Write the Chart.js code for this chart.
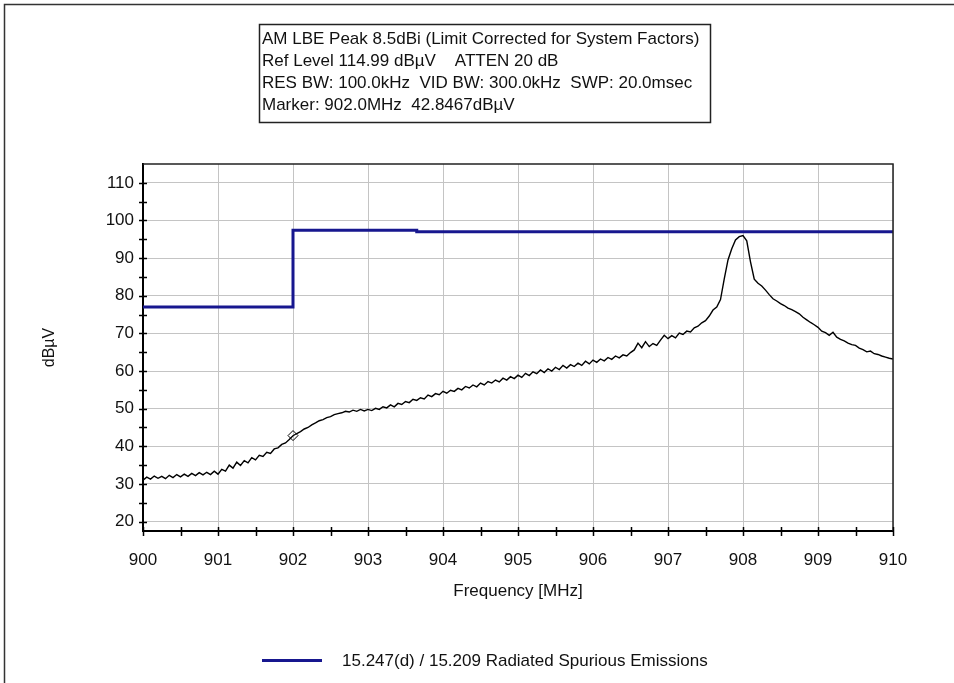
<!DOCTYPE html>
<html>
<head>
<meta charset="utf-8">
<script src="https://cdn.jsdelivr.net/npm/chart.js@4.4.1/dist/chart.umd.min.js"></script>
<style>
  html, body { margin: 0; padding: 0; background: #fff; }
  canvas { display: block; }
</style>
</head>
<body>
<canvas id="grafico" width="954" height="683"></canvas>
<script>
const sweepStart = 900;
const sweepStep = 0.05;
const traceLevels = [
  31.0, 31.8, 31.3, 32.1, 31.5, 32.0, 31.4, 32.3, 31.7, 32.5,
  31.9, 32.6, 32.0, 32.8, 32.2, 33.0, 32.4, 33.1, 32.5, 33.4,
  32.6, 33.9, 33.4, 35.0, 34.2, 35.8, 34.9, 36.2, 35.6, 37.0,
  36.4, 37.6, 37.3, 38.4, 38.1, 39.3, 39.6, 40.5, 40.9, 41.8,
  42.8, 43.4, 43.9, 44.6, 45.0, 45.7, 46.2, 46.8, 47.1, 47.6,
  47.9, 48.4, 48.7, 48.9, 49.3, 49.1, 49.6, 49.3, 49.8, 49.4,
  49.8, 49.5, 50.1, 49.8, 50.5, 50.2, 51.0, 50.5, 51.4, 51.1,
  51.9, 51.6, 52.5, 52.2, 52.9, 52.6, 53.6, 53.2, 54.0, 53.7,
  54.6, 54.1, 54.9, 54.6, 55.4, 55.0, 55.9, 55.5, 56.3, 55.8,
  56.8, 56.3, 57.2, 56.8, 57.6, 57.1, 58.1, 57.6, 58.5, 58.0,
  58.9, 58.3, 59.4, 58.8, 59.8, 59.3, 60.3, 59.6, 60.6, 60.0,
  61.0, 60.4, 61.5, 60.8, 61.7, 61.2, 62.1, 61.5, 62.6, 61.9,
  62.9, 62.3, 63.2, 62.7, 63.6, 63.1, 64.0, 63.5, 64.3, 64.0,
  64.9, 65.6, 67.4, 66.2, 67.8, 66.5, 67.3, 66.8, 68.2, 69.5,
  68.6, 69.4, 68.8, 70.1, 69.7, 70.6, 70.4, 71.5, 71.9, 72.8,
  73.4, 74.6, 76.2, 77.0, 79.0, 84.5, 89.5, 92.5, 94.8, 95.7,
  96.0, 94.6, 89.0, 84.4, 83.3, 82.6, 81.5, 80.3, 79.2, 78.6,
  77.9, 77.4, 76.7, 76.3, 75.8, 75.2, 74.3, 73.6, 72.9, 72.3,
  71.6, 70.6, 70.2, 69.5, 70.3, 69.0, 68.4, 68.0, 67.4, 67.0,
  66.8, 66.1, 65.7, 65.1, 65.3, 64.6, 64.4, 64.0, 63.7, 63.4,
  63.2
];
const traceFreqs = traceLevels.map((v, i) => +(sweepStart + i * sweepStep).toFixed(2));

// limite 15.247(d) / 15.209
const limitFreqs = [900, 902, 902, 903.65, 903.65, 910];
const limitLevels = [77.0, 77.0, 97.4, 97.4, 97.0, 97.0];

// marcador
const markerFreq = 902.0;
const markerLevel = 42.8467;

const yTickValues = [20, 30, 40, 50, 60, 70, 80, 90, 100, 110];
const xTickValues = [900, 901, 902, 903, 904, 905, 906, 907, 908, 909, 910];

const infoLines = [
  "AM LBE Peak 8.5dBi (Limit Corrected for System Factors)",
  "Ref Level 114.99 dB\u00b5V    ATTEN 20 dB",
  "RES BW: 100.0kHz  VID BW: 300.0kHz  SWP: 20.0msec",
  "Marker: 902.0MHz  42.8467dB\u00b5V"
];
const legendLabel = "15.247(d) / 15.209 Radiated Spurious Emissions";

const FONT = '"Liberation Sans", Arial, sans-serif';
const LIMIT_COLOR = '#17178f';

// plugin para marco, marcas de eje, caja de info y leyenda
const decoracion = {
  id: 'decoracion',
  afterDraw(chart) {
    const ctx = chart.ctx;
    const a = chart.chartArea;
    const xs = chart.scales.x, ys = chart.scales.y;
    ctx.save();

    // marco exterior
    ctx.strokeStyle = '#333';
    ctx.lineWidth = 1.5;
    ctx.beginPath();
    ctx.moveTo(4.5, 683);
    ctx.lineTo(4.5, 4.5);
    ctx.lineTo(954, 4.5);
    ctx.stroke();

    // borde superior y derecho del area
    ctx.strokeStyle = '#222';
    ctx.lineWidth = 1.5;
    ctx.beginPath();
    ctx.moveTo(a.left, a.top);
    ctx.lineTo(a.right, a.top);
    ctx.lineTo(a.right, a.bottom);
    ctx.stroke();

    // marcas cruzando los ejes
    ctx.strokeStyle = '#000';
    ctx.lineWidth = 1.5;
    ctx.beginPath();
    for (let v = 20; v <= 110; v += 5) {
      const y = Math.round(ys.getPixelForValue(v)) + 0.5;
      ctx.moveTo(a.left - 4, y);
      ctx.lineTo(a.left + 4, y);
    }
    for (let v = 900; v <= 910; v += 0.5) {
      const x = Math.round(xs.getPixelForValue(v)) + 0.5;
      ctx.moveTo(x, a.bottom - 4);
      ctx.lineTo(x, a.bottom + 5);
    }
    ctx.stroke();

    // caja de informacion
    ctx.fillStyle = '#fff';
    ctx.fillRect(259, 24, 451, 98);
    ctx.strokeStyle = '#222';
    ctx.lineWidth = 1.5;
    ctx.strokeRect(259.5, 24.5, 451, 98);
    ctx.fillStyle = '#111';
    ctx.font = '17px ' + FONT;
    ctx.textBaseline = 'alphabetic';
    ctx.textAlign = 'left';
    infoLines.forEach((t, i) => ctx.fillText(t, 262, 44 + i * 22));

    // leyenda
    ctx.strokeStyle = LIMIT_COLOR;
    ctx.lineWidth = 3;
    ctx.beginPath();
    ctx.moveTo(262, 660.5);
    ctx.lineTo(322, 660.5);
    ctx.stroke();
    ctx.fillStyle = '#111';
    ctx.font = '17px ' + FONT;
    ctx.textBaseline = 'middle';
    ctx.fillText(legendLabel, 342, 661);

    ctx.restore();
  }
};

window.onload = function () {
  const ctx = document.getElementById('grafico');
  new Chart(ctx, {
    type: 'line',
    data: {
      datasets: [
        {
          label: 'Marker',
          data: [{ x: markerFreq, y: markerLevel }],
          showLine: false,
          pointStyle: 'rectRot',
          pointRadius: 5,
          pointBorderWidth: 1,
          pointBorderColor: '#000',
          pointBackgroundColor: 'rgba(255,255,255,0)',
          order: 0
        },
        {
          label: legendLabel,
          data: limitFreqs.map((f, i) => ({ x: f, y: limitLevels[i] })),
          borderColor: LIMIT_COLOR,
          borderWidth: 3,
          pointRadius: 0,
          tension: 0,
          order: 1
        },
        {
          label: 'Trace',
          data: traceFreqs.map((f, i) => ({ x: f, y: traceLevels[i] })),
          borderColor: '#000',
          borderWidth: 1.4,
          pointRadius: 0,
          tension: 0,
          order: 2
        }
      ]
    },
    options: {
      responsive: false,
      animation: false,
      events: [],
      layout: { padding: { left: 0, top: 164, right: 61, bottom: 0 } },
      plugins: {
        legend: { display: false },
        tooltip: { enabled: false }
      },
      scales: {
        x: {
          type: 'linear',
          min: 900,
          max: 910,
          afterBuildTicks: s => { s.ticks = xTickValues.map(v => ({ value: v })); },
          afterFit: s => { s.height = 152; },
          grid: { color: '#c4c4c4', lineWidth: 1, drawTicks: false },
          border: { display: true, color: '#000', width: 2 },
          ticks: {
            padding: 19,
            color: '#111',
            maxRotation: 0,
            font: { family: FONT, size: 17 },
            callback: v => String(v)
          },
          title: {
            display: true,
            text: 'Frequency [MHz]',
            color: '#111',
            font: { family: FONT, size: 17 },
            padding: { top: 0, bottom: 81 }
          }
        },
        y: {
          type: 'linear',
          min: 17.5,
          max: 115,
          afterBuildTicks: s => { s.ticks = yTickValues.map(v => ({ value: v })); },
          afterFit: s => { s.width = 143; },
          grid: { color: '#c4c4c4', lineWidth: 1, drawTicks: false },
          border: { display: true, color: '#000', width: 2 },
          ticks: {
            padding: 9,
            color: '#111',
            font: { family: FONT, size: 17 },
            callback: v => String(v)
          },
          title: {
            display: true,
            text: 'dB\u00b5V',
            color: '#111',
            font: { family: FONT, size: 16 },
            padding: { top: 40, bottom: 0 }
          }
        }
      }
    },
    plugins: [decoracion]
  });
};
</script>
</body>
</html>
